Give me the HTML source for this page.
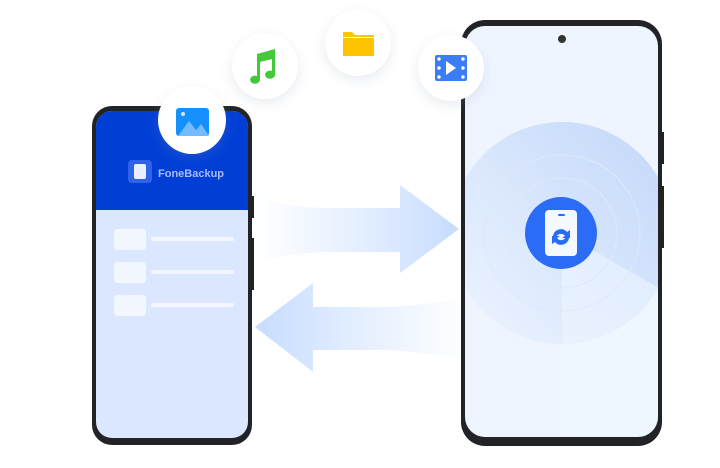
<!DOCTYPE html>
<html><head><meta charset="utf-8"><style>
html,body{margin:0;padding:0;background:#fff;}
body{width:720px;height:468px;overflow:hidden;position:relative;font-family:"Liberation Sans",sans-serif;}
</style></head><body>
<svg width="720" height="468" viewBox="0 0 720 468" xmlns="http://www.w3.org/2000/svg" style="position:absolute;left:0;top:0">
<defs>
<linearGradient id="ar" x1="0" x2="1"><stop offset="0" stop-color="#cfe1ff" stop-opacity="0"/><stop offset="1" stop-color="#c6dcff"/></linearGradient>
<linearGradient id="al" x1="1" x2="0"><stop offset="0" stop-color="#cfe1ff" stop-opacity="0"/><stop offset="1" stop-color="#c6dcff"/></linearGradient>
<linearGradient id="big" x1="0.1" x2="0.9" y1="0.9" y2="0.2"><stop offset="0" stop-color="#eaf2ff"/><stop offset="1" stop-color="#c8dbfa"/></linearGradient>
<filter id="sh" x="-50%" y="-50%" width="200%" height="200%"><feDropShadow dx="0" dy="4" stdDeviation="6" flood-color="#8899bb" flood-opacity="0.2"/></filter>
<clipPath id="rs"><rect x="465" y="26" width="193" height="411" rx="20"/></clipPath>
<clipPath id="ls"><rect x="96" y="111" width="152" height="327" rx="16"/></clipPath>
</defs>
<path d="M255 196 Q290 208 330 208 L400 208 L400 185 L459 229 L400 273 L400 252 L330 252 Q290 252 255 264 Z" fill="url(#ar)"/>
<path d="M470 296 Q420 307 380 307 L313 307 L313 283 L255 327 L313 372 L313 350 L380 350 Q420 350 470 362 Z" fill="url(#al)"/>
<rect x="92" y="106" width="160" height="339" rx="20" fill="#222326"/>
<rect x="250" y="196" width="4" height="22" fill="#222"/>
<rect x="250" y="238" width="4" height="52" fill="#222"/>
<g clip-path="url(#ls)">
<rect x="96" y="111" width="152" height="327" fill="#dbe7ff"/>
<rect x="96" y="111" width="152" height="99" fill="#003ed6"/>
</g>
<rect x="128" y="160" width="24" height="23" rx="4" fill="#2f63e8"/>
<rect x="134" y="164" width="12" height="15" rx="2" fill="#eaf0ff"/>
<text x="158" y="177" font-size="11" font-weight="bold" fill="#a7bcff">FoneBackup</text>
<rect x="114" y="229" width="32" height="21" rx="3" fill="#f3f7ff"/>
<rect x="151" y="237" width="83" height="4" rx="2" fill="#f3f7ff"/>
<rect x="114" y="262" width="32" height="21" rx="3" fill="#f3f7ff"/>
<rect x="151" y="270" width="83" height="4" rx="2" fill="#f3f7ff"/>
<rect x="114" y="295" width="32" height="21" rx="3" fill="#f3f7ff"/>
<rect x="151" y="303" width="83" height="4" rx="2" fill="#f3f7ff"/>
<rect x="461" y="20" width="201" height="426" rx="24" fill="#222326"/>
<rect x="660" y="132" width="4" height="32" fill="#222"/>
<rect x="660" y="186" width="4" height="62" fill="#222"/>
<g clip-path="url(#rs)">
<rect x="465" y="26" width="193" height="411" fill="#eef5ff"/>
<circle cx="562" cy="233" r="111" fill="url(#big)"/>
<path d="M562 233 L680 300 L680 460 L562 460 Z" fill="#eef5ff" opacity="0.55"/>
<circle cx="562" cy="233" r="78" fill="none" stroke="#dfe8f7" stroke-width="1"/>
<circle cx="562" cy="233" r="55" fill="none" stroke="#dfe8f7" stroke-width="1"/>
</g>
<circle cx="562" cy="39" r="4" fill="#333"/>
<circle cx="561" cy="233" r="36" fill="#2a6cf5"/>
<rect x="545" y="210" width="32" height="46" rx="4" fill="#f4f8ff"/>
<rect x="558" y="214" width="7" height="2" rx="1" fill="#2a6cf5"/>
<path d="M553 236 a8 8 0 0 1 14 -4 l3 -2 l0 8 l-8 0 l3 -2 a5 5 0 0 0 -9 2 z M569 238 a8 8 0 0 1 -14 4 l-3 2 l0 -8 l8 0 l-3 2 a5 5 0 0 0 9 -2 z" fill="#2a6cf5"/>
<g filter="url(#sh)">
<circle cx="192" cy="120" r="34" fill="#fff"/>
<circle cx="265" cy="66" r="33" fill="#fff"/>
<circle cx="358" cy="43" r="33" fill="#fff"/>
<circle cx="451" cy="68" r="33" fill="#fff"/>
</g>
<rect x="176" y="108" width="33" height="28" rx="3" fill="#1790ff"/>
<circle cx="183" cy="114" r="2" fill="#cfe6ff"/>
<path d="M178 136 L189 121 L196 130 L201 124 L209 136 Z" fill="#74bbff"/>
<path d="M257 54 L275 49 L275 74 a5 4 0 1 1 -3 -3 L272 59 L260 62 L260 79 a5 4 0 1 1 -3 -3 Z" fill="#44c93b"/>
<path d="M343 32 L352 32 L355 35 L374 35 L374 56 L343 56 Z" fill="#ffc300"/>
<rect x="343" y="37" width="31" height="1" fill="#fff"/>
<rect x="435" y="55" width="32" height="26" rx="2" fill="#3a7df5"/>
<g fill="#fff"><circle cx="439" cy="59" r="1.7"/><circle cx="439" cy="68" r="1.7"/><circle cx="439" cy="77" r="1.7"/><circle cx="463" cy="59" r="1.7"/><circle cx="463" cy="68" r="1.7"/><circle cx="463" cy="77" r="1.7"/><path d="M446 61 L456 68 L446 75 Z"/></g>
</svg>
</body></html>
